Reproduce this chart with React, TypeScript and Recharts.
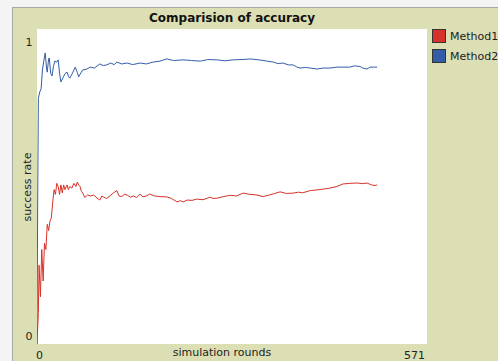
import React from "react";
import { LineChart, Line, XAxis, YAxis } from "recharts";

const method1Rounds = [0, 2, 3, 5, 7, 9, 11, 13, 15, 17, 19, 21, 23, 25, 27, 29, 31, 33, 35, 37, 39, 41, 44, 46, 48, 51, 54, 57, 59, 61, 63, 65, 67, 70, 74, 78, 83, 88, 92, 95, 97, 102, 107, 112, 117, 120, 124, 128, 132, 137, 141, 146, 151, 155, 160, 165, 172, 180, 190, 197, 205, 210, 214, 220, 227, 234, 243, 253, 258, 264, 273, 283, 292, 302, 312, 322, 331, 340, 348, 356, 365, 375, 383, 389, 400, 410, 420, 429, 439, 448, 458, 469, 477, 483, 490, 495, 498];
const method1Values = [0, 0.1, 0.25, 0.15, 0.3, 0.2, 0.32, 0.3, 0.38, 0.36, 0.39, 0.4, 0.45, 0.49, 0.475, 0.51, 0.5, 0.475, 0.505, 0.48, 0.505, 0.49, 0.505, 0.49, 0.5, 0.495, 0.51, 0.5, 0.514, 0.505, 0.5, 0.485, 0.479, 0.465, 0.473, 0.47, 0.473, 0.463, 0.457, 0.47, 0.467, 0.462, 0.47, 0.48, 0.487, 0.47, 0.468, 0.475, 0.473, 0.466, 0.47, 0.465, 0.476, 0.467, 0.47, 0.476, 0.47, 0.468, 0.467, 0.462, 0.451, 0.455, 0.451, 0.457, 0.456, 0.46, 0.458, 0.466, 0.462, 0.463, 0.468, 0.472, 0.47, 0.479, 0.475, 0.473, 0.468, 0.473, 0.478, 0.483, 0.478, 0.479, 0.482, 0.48, 0.487, 0.489, 0.492, 0.495, 0.5, 0.508, 0.51, 0.511, 0.509, 0.511, 0.505, 0.503, 0.505];

const method2Rounds = [0, 1, 2, 4, 6, 8, 10, 12, 14, 15, 17, 18, 20, 22, 24, 26, 29, 31, 33, 35, 38, 41, 44, 46, 48, 52, 56, 59, 61, 64, 67, 72, 78, 84, 92, 97, 102, 108, 113, 117, 124, 132, 140, 151, 160, 170, 180, 190, 200, 214, 226, 239, 250, 264, 275, 287, 300, 312, 325, 337, 346, 353, 360, 368, 375, 380, 385, 393, 400, 410, 419, 429, 439, 448, 458, 465, 473, 477, 483, 488, 493, 498];
const method2Values = [0, 0.45, 0.78, 0.8, 0.81, 0.87, 0.9, 0.924, 0.875, 0.863, 0.905, 0.908, 0.86, 0.851, 0.88, 0.898, 0.895, 0.902, 0.86, 0.832, 0.845, 0.858, 0.863, 0.85, 0.844, 0.86, 0.879, 0.862, 0.848, 0.86, 0.87, 0.872, 0.879, 0.876, 0.889, 0.884, 0.886, 0.892, 0.887, 0.895, 0.889, 0.892, 0.887, 0.892, 0.889, 0.895, 0.898, 0.905, 0.9, 0.902, 0.9, 0.898, 0.903, 0.902, 0.899, 0.902, 0.903, 0.905, 0.902, 0.898, 0.895, 0.89, 0.892, 0.886, 0.886, 0.88, 0.876, 0.878, 0.876, 0.873, 0.876, 0.876, 0.879, 0.879, 0.879, 0.883, 0.881, 0.876, 0.873, 0.879, 0.879, 0.879];

const xTicks = [0, 571];
const yTicks = [0, 1];
const seriesNames = ["Method1", "Method2"];
const seriesColors = ["#D73229", "#345DA9"];

const method1Data = method1Rounds.map((r, i) => ({ round: r, value: method1Values[i] }));
const method2Data = method2Rounds.map((r, i) => ({ round: r, value: method2Values[i] }));

const FONT = "Tahoma, 'DejaVu Sans', sans-serif";
const BEIGE = "#DCDFB4";

const XTick = (props: any) => {
  const { x, y, payload } = props;
  const last = payload.value === 571;
  return (
    <text x={last ? x - 2 : x - 1} y={y + 7} textAnchor={last ? "end" : "start"} fontSize={11} fontFamily={FONT} fill="#222">
      {payload.value}
    </text>
  );
};

const YTick = (props: any) => {
  const { y, payload } = props;
  const top = payload.value === 1;
  return (
    <text x={29} y={top ? y + 17 : y - 4} textAnchor="middle" fontSize={11} fontFamily={FONT} fill="#222">
      {payload.value}
    </text>
  );
};

const LegendBox = () => (
  <div style={{ position: "absolute", left: 432, top: 26, fontFamily: FONT, fontSize: 11, color: "#222" }}>
    {seriesNames.map((name, i) => (
      <div key={name} style={{ display: "flex", alignItems: "center", height: 20, whiteSpace: "nowrap" }}>
        <span style={{ width: 12, height: 12, background: seriesColors[i], border: "1px solid #333", marginRight: 4 }} />
        {name}
      </div>
    ))}
  </div>
);

export default function App() {
  return (
    <div style={{ position: "fixed", left: 0, top: 0, width: 498, height: 361, background: "#F4F4F4", overflow: "hidden" }}>
      <div style={{ position: "absolute", left: 12, top: 7, width: 486, height: 354, background: BEIGE, borderLeft: "1px solid #A8A8A8", borderTop: "1px solid #A8A8A8" }} />
      {/* white plot area */}
      <div style={{ position: "absolute", left: 37, top: 29, width: 390, height: 315, background: "#fff" }} />
      <div style={{ position: "absolute", left: 37, width: 390, top: 11, textAlign: "center", fontFamily: FONT, fontWeight: "bold", fontSize: 12, color: "#111" }}>
        Comparision of accuracy
      </div>
      <div style={{ position: "absolute", left: 37, width: 370, top: 346, textAlign: "center", fontFamily: FONT, fontSize: 11, color: "#222" }}>
        simulation rounds
      </div>
      <div style={{ position: "absolute", left: 27, top: 187, transform: "translate(-50%, -50%) rotate(-90deg)", whiteSpace: "nowrap", fontFamily: FONT, fontSize: 11, color: "#222" }}>
        success rate
      </div>
      <LegendBox />
      <div style={{ position: "absolute", left: 0, top: 0 }}>
        <LineChart width={498} height={361} margin={{ top: 29, right: 71, bottom: 0, left: 0 }}>
          <XAxis dataKey="round" type="number" domain={[0, 571]} ticks={xTicks} tick={<XTick />} axisLine={false} tickLine={false} height={17} allowDataOverflow />
          <YAxis type="number" domain={[0, 1]} ticks={yTicks} tick={<YTick />} axisLine={false} tickLine={false} width={37} allowDataOverflow />
          <Line data={method1Data} dataKey="value" name={seriesNames[0]} stroke={seriesColors[0]} strokeWidth={1} dot={false} isAnimationActive={false} type="linear" />
          <Line data={method2Data} dataKey="value" name={seriesNames[1]} stroke={seriesColors[1]} strokeWidth={1} dot={false} isAnimationActive={false} type="linear" />
        </LineChart>
      </div>
    </div>
  );
}
